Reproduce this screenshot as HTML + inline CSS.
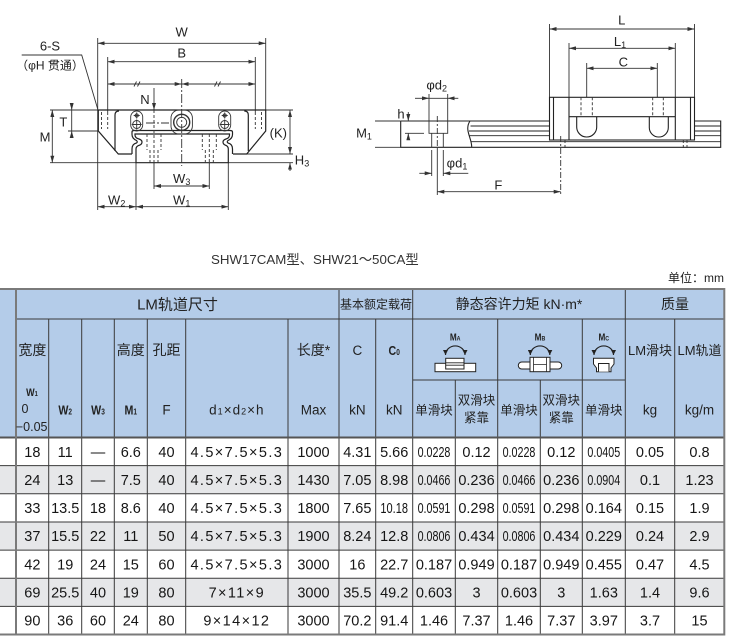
<!DOCTYPE html>
<html><head><meta charset="utf-8">
<style>
html,body{margin:0;padding:0;background:#fff;width:732px;height:641px;overflow:hidden}
svg{display:block}
text{font-family:"Liberation Sans","Noto Sans CJK SC",sans-serif;fill:#222}
.m{text-anchor:middle}
.d text{font-size:14.5px;text-anchor:middle;fill:#151515}
.ls{letter-spacing:1.4px}
.da{marker-start:url(#a);marker-end:url(#a)}
.de{marker-end:url(#a)}
.dt text{font-size:13px;text-anchor:middle}
</style></head><body>
<svg width="732" height="641" viewBox="0 0 732 641" xmlns="http://www.w3.org/2000/svg">
<defs>
<marker id="a" viewBox="0 0 7 4" refX="7" refY="2" markerWidth="7" markerHeight="4" orient="auto-start-reverse" markerUnits="userSpaceOnUse"><path d="M0,0L7,2L0,4z" fill="#333"/></marker>
<marker id="b" viewBox="0 0 5 5" refX="5" refY="2.5" markerWidth="5" markerHeight="5" orient="auto-start-reverse" markerUnits="userSpaceOnUse"><path d="M0,0L5,2.5L0,5z" fill="#222"/></marker>
</defs>

<!-- ============ LEFT DRAWING ============ -->
<g fill="none" stroke="#333" stroke-width="0.9">
  <path d="M97.7,38V210M265.7,38V110M107.7,57V112M255.3,57V112"/>
  <path d="M50,110H97.7M50,162.7H136M68,131H98.3M265.7,110H293M246.7,154H293M228.3,162.7H293"/>
  <path d="M136,162.7V210M228.3,162.7V210M154,163V189M209.3,163V189"/>
  <path d="M71.7,110V131"/>
  <line class="da" x1="97.7" y1="43.3" x2="265.7" y2="43.3"/>
  <line class="da" x1="107.7" y1="61.7" x2="255.3" y2="61.7"/>
  <line class="da" x1="107.7" y1="84" x2="181.7" y2="84"/>
  <line class="da" x1="181.7" y1="84" x2="255.3" y2="84"/>
  <line class="da" x1="52.3" y1="110" x2="52.3" y2="162.7"/>
  <line class="da" x1="290" y1="110" x2="290" y2="154"/>
  <line class="da" x1="154" y1="186" x2="209.3" y2="186"/>
  <line class="da" x1="97.7" y1="206.7" x2="136" y2="206.7"/>
  <line class="da" x1="136" y1="206.7" x2="228.3" y2="206.7"/>
  <line class="de" x1="71.7" y1="103" x2="71.7" y2="110"/>
  <line class="de" x1="71.7" y1="137" x2="71.7" y2="131"/>
  <line class="de" x1="290" y1="171" x2="290" y2="162.7"/>
  <line class="de" x1="154" y1="88" x2="154" y2="110"/>
  <path d="M134,86.5L136.5,81.5M137.5,86.5L140,81.5M214.5,86.5L217,81.5M218,86.5L220.5,81.5"/>
  <polyline points="21.7,55 81.7,55 98.3,111"/>
  <g stroke-width="1.2" stroke="#222">
  <path d="M98.3,110H265.7V131L246.7,154H233M132,154H118.3L98.3,131V110"/>
  <path d="M115,151V115Q115,111 119,111M248.3,151V115Q248.3,111 244.3,111"/>
  <path d="M132,154V149Q132,144 136.5,143Q138,142 136.5,140.5Q132,138.5 132,134.5V132Q132,130.5 134,130.5H230Q232.5,130.5 232.5,132V134.5Q232.5,138.5 228,140.5Q226.5,142 228,143Q232.5,144 232.5,149V154"/>
  <path d="M136,162.7V149Q136,146 140,145Q142,144 142,142Q142,140 139,139Q135,138 135,135V134H229.5V135Q229.5,138 226,139Q223,140 223,142Q223,144 225,145Q228.3,146 228.3,149V162.7Z" fill="#fff"/>
  </g>
  <rect x="130.7" y="111" width="12" height="20" rx="6"/>
  <circle cx="136.7" cy="115.5" r="1.6"/>
  <path d="M133.7,115.5H139.7M136.7,112.5V118.5"/>
  <circle cx="136.7" cy="124.5" r="4"/>
  <path d="M131.7,124.5H141.7M136.7,119.5V129.5"/>
  <rect x="218.7" y="111" width="12" height="20" rx="6"/>
  <circle cx="224.7" cy="115.5" r="1.6"/>
  <path d="M221.7,115.5H227.7M224.7,112.5V118.5"/>
  <circle cx="224.7" cy="124.5" r="4"/>
  <path d="M219.7,124.5H229.7M224.7,119.5V129.5"/>
  <rect x="171" y="110" width="21.4" height="24" rx="8"/>
  <circle cx="181.7" cy="122.3" r="8" stroke-width="1.4"/>
  <circle cx="181.7" cy="122.3" r="5"/>
  <g stroke-dasharray="3,2">
    <path d="M101.5,112V129M107.7,112V129M255.3,112V129M261.5,112V129"/>
    <path d="M147,134V150M161,134V150M150,150V163M158,150V163M202.3,134V150M216.3,134V150M205.3,150V163M213.3,150V163"/>
    <path d="M154,110V163M209.3,134V163"/>
  </g>
  <path d="M181.7,79V166M146,123H169" stroke-dasharray="9,2,2,2"/>
</g>
<g class="dt">
  <text x="181.7" y="36.5">W</text>
  <text x="181.7" y="57.7">B</text>
  <text x="145" y="104">N</text>
  <text x="50" y="50.5">6-S</text>
  <text x="50" y="69.5" style="font-size:12px">（φH 贯通）</text>
  <text x="63.3" y="126.5">T</text>
  <text x="45" y="141.5">M</text>
  <text x="278.3" y="137.5">(K)</text>
  <text x="302" y="164.5">H<tspan style="font-size:9px" dy="2">3</tspan></text>
  <text x="181.7" y="183">W<tspan style="font-size:9px" dy="2">3</tspan></text>
  <text x="116.7" y="204.7">W<tspan style="font-size:9px" dy="2">2</tspan></text>
  <text x="181.7" y="204.7">W<tspan style="font-size:9px" dy="2">1</tspan></text>
</g>

<!-- ============ RIGHT DRAWING ============ -->
<g fill="none" stroke="#333" stroke-width="0.9">
  <path d="M549.5,24V97.3M694.5,24V97.3M569,43V97.3M675.3,43V97.3M586.7,63V97.3M657.3,63V97.3"/>
  <line class="da" x1="549.5" y1="29" x2="694.5" y2="29"/>
  <line class="da" x1="569" y1="48.3" x2="675.3" y2="48.3"/>
  <line class="da" x1="586.7" y1="68.3" x2="657.3" y2="68.3"/>
  <g stroke-width="1.1" stroke="#222">
  <path d="M400.7,121H549.5M694.5,121H720.7V147.3H400.7V121"/>
  <path d="M470,121C464,130 472,138 471.7,147.3" />
  <path d="M470.5,126H549.5M469,131H549.5M469.5,135.7H549.5M471,141.7H720.7M694.5,126H720.7M694.5,131H720.7M694.5,135.7H720.7" stroke-width="0.9"/>
  <rect x="549.5" y="97.3" width="145" height="42.7" fill="#fff"/>
  <path d="M553.5,97.3V140M690.5,97.3V140M569,97.3V140M675.3,97.3V140M569,116.7H675.3"/>
  <path d="M576.7,116.7V127A10,10 0 0 0 596.7,127V116.7M649.3,116.7V127.5A9.5,9.5 0 0 0 668.3,127.5V116.7"/>
  </g>
  <g stroke-dasharray="3,2">
    <path d="M581,97.3V116.7M592.3,97.3V116.7M652.7,97.3V116.7M663.3,97.3V116.7"/>
    <path d="M565,140V150M683.3,140V150M687,140V150"/>
  </g>
  <path d="M560.7,136V195M437.3,116V150" stroke-dasharray="6,2,2,2"/>
  <path d="M429,94V133.3H447.7V94M431.7,133.3V147.3M443.3,133.3V147.3"/>
  <path d="M431.7,150V176M443.3,150V176M437.3,150V195"/>
  <path d="M405,133.3H424M375,121H400.7M375,147.3H400.7"/>
  <line class="de" x1="408.3" y1="112" x2="408.3" y2="121"/>
  <line class="de" x1="408.3" y1="140" x2="408.3" y2="133.3"/>
  <path d="M429,98.3H447.7"/>
  <line class="de" x1="415" y1="98.3" x2="429" y2="98.3"/>
  <line class="de" x1="458.3" y1="98.3" x2="447.7" y2="98.3"/>
  <line class="de" x1="419.3" y1="173.3" x2="431.7" y2="173.3"/>
  <line class="de" x1="468.3" y1="173.3" x2="443.3" y2="173.3"/>
  <line class="da" x1="437.3" y1="191.7" x2="560.7" y2="191.7"/>
</g>
<g class="dt">
  <text x="621.7" y="24.5">L</text>
  <text x="620" y="46">L<tspan style="font-size:9px" dy="2">1</tspan></text>
  <text x="623.3" y="66.3">C</text>
  <text x="436.7" y="89.5">φd<tspan style="font-size:9px" dy="2">2</tspan></text>
  <text x="401" y="118.5">h</text>
  <text x="364" y="137.5">M<tspan style="font-size:9px" dy="2">1</tspan></text>
  <text x="457" y="167.5">φd<tspan style="font-size:9px" dy="2">1</tspan></text>
  <text x="498.3" y="189.5">F</text>
</g>

<!-- ============ CAPTION ============ -->
<text x="211" y="264" style="font-size:13.3px;fill:#333">SHW17CAM型、SHW21〜50CA型</text>
<text x="724" y="282" style="font-size:12px;text-anchor:end;fill:#222">单位：mm</text>

<!-- ============ TABLE ============ -->
<rect x="0" y="289" width="724.3" height="148.5" fill="#b4cce9"/>
<rect x="0" y="465.65" width="724.3" height="28.15" fill="#e6e7e9"/>
<rect x="0" y="521.95" width="724.3" height="28.15" fill="#e6e7e9"/>
<rect x="0" y="578.25" width="724.3" height="28.15" fill="#e6e7e9"/>
<g stroke="#3a3a3a" stroke-width="1" fill="none">
<path d="M16,319H724.3M412.7,380H625.3M0,465.65H724.3M0,493.8H724.3M0,521.95H724.3M0,550.1H724.3M0,578.25H724.3M0,606.4H724.3"/>
<path d="M339,289V634.5M412.7,289V634.5M625.3,289V634.5M48.7,319V634.5M81.7,319V634.5M114.3,319V634.5M147.3,319V634.5M185.7,319V634.5M288,319V634.5M375.7,319V634.5M497.7,319V634.5M582.3,319V634.5M674.7,319V634.5M455.3,380V634.5M540.3,380V634.5"/>
</g>
<path d="M0,437.5H724.3" stroke="#555" stroke-width="2"/>
<g stroke="#7a7a7a" stroke-width="2" fill="none">
<path d="M0,289H725.3M724.3,289V635.5M0,634.5H725.3M16,289V635"/>
</g>

<text class="m" x="177.5" y="309.5" style="font-size:15px">LM轨道尺寸</text>
<text class="m" x="376" y="308.5" style="font-size:12px">基本额定载荷</text>
<text class="m" x="519" y="309" style="font-size:14px">静态容许力矩 kN·m*</text>
<text class="m" x="675" y="309" style="font-size:14px">质量</text>

<g style="font-size:14px">
<text class="m" x="32.35" y="355">宽度</text>
<text class="m" x="130.8" y="355">高度</text>
<text class="m" x="166.5" y="355">孔距</text>
<text class="m" x="313.5" y="355">长度*</text>
</g>
<text class="m" transform="translate(32,396) scale(.82,1)" style="font-size:11px;font-weight:bold">W<tspan style="font-size:7px">1</tspan></text>
<text class="m" x="25" y="413" style="font-size:12.5px">0</text>
<text class="m" x="31.7" y="431" style="font-size:12.5px">−0.05</text>
<g style="font-size:13px;font-weight:bold">
<text class="m" transform="translate(65.2,414.5) scale(.82,1)">W<tspan style="font-size:8px">2</tspan></text>
<text class="m" transform="translate(98,414.5) scale(.82,1)">W<tspan style="font-size:8px">3</tspan></text>
<text class="m" transform="translate(130.8,414.5) scale(.82,1)">M<tspan style="font-size:8px">1</tspan></text>
<text class="m" transform="translate(394.2,355) scale(.82,1)">C<tspan style="font-size:8px">0</tspan></text>
</g>
<g style="font-size:13.5px">
<text class="m" x="166.5" y="414.5">F</text>
<text class="m" x="236.85" y="414.5" style="letter-spacing:1px">d<tspan style="font-size:9px">1</tspan>×d<tspan style="font-size:9px">2</tspan>×h</text>
<text class="m" x="313.5" y="414.5">Max</text>
<text class="m" x="357.35" y="355">C</text>
<text class="m" x="357.35" y="414.5">kN</text>
<text class="m" x="394.2" y="414.5">kN</text>
<text class="m" x="650" y="414.5">kg</text>
<text class="m" x="699.5" y="414.5">kg/m</text>
</g>
<g style="font-size:13px">
<text class="m" x="650" y="355">LM滑块</text>
<text class="m" x="699.5" y="355">LM轨道</text>
</g>
<g style="font-size:12.5px">
<text class="m" x="434" y="414.5">单滑块</text>
<text class="m" x="476.5" y="404.5">双滑块</text>
<text class="m" x="476.5" y="422">紧靠</text>
<text class="m" x="519" y="414.5">单滑块</text>
<text class="m" x="561.3" y="404.5">双滑块</text>
<text class="m" x="561.3" y="422">紧靠</text>
<text class="m" x="603.8" y="414.5">单滑块</text>
</g>

<g style="font-size:10px;font-weight:bold">
<text class="m" transform="translate(455.2,340.5) scale(.82,1)">M<tspan style="font-size:6.5px">A</tspan></text>
<text class="m" transform="translate(540,340.5) scale(.82,1)">M<tspan style="font-size:6.5px">B</tspan></text>
<text class="m" transform="translate(603.8,340.5) scale(.82,1)">M<tspan style="font-size:6.5px">C</tspan></text>
</g>
<g fill="none" stroke="#222" stroke-width="1.2">
<path d="M445.5,355A9.7,9 0 0 1 465,355" marker-start="url(#b)" marker-end="url(#b)"/>
<path d="M530.3,355A9.7,9 0 0 1 549.8,355" marker-start="url(#b)" marker-end="url(#b)"/>
<path d="M594,355A9.7,9 0 0 1 613.5,355" marker-start="url(#b)" marker-end="url(#b)"/>
</g>
<g stroke="#222" stroke-width="1" fill="#fff">
<rect x="435" y="363.3" width="40.7" height="8.4"/>
<rect x="445.7" y="358.3" width="18.3" height="10.7"/>
<path d="M445.7,362.8H464M445.7,365.2H464" fill="none" stroke-width=".8"/>
<rect x="518.3" y="362" width="43.4" height="7" rx="3.5"/>
<rect x="530" y="357.3" width="20" height="14.4"/>
<path d="M533.5,357.3V371.7M546.5,357.3V371.7M533.5,364.5H546.5" fill="none" stroke-width=".8"/>
<path d="M593.5,358.3H614V364L611,368V371.7H596.5V368L593.5,364Z"/>
<path d="M598.5,371.7V363.5H609V371.7"/>
</g>

<g class="d">
<g transform="translate(0,456.8)">
<text x="32.35">18</text><text x="65.2">11</text><text x="98">—</text><text x="130.8">6.6</text><text x="166.5">40</text><text x="236.85" class="ls">4.5×7.5×5.3</text><text x="313.5">1000</text><text x="357.35">4.31</text><text x="394.2">5.66</text><text transform="translate(434) scale(.74,1)">0.0228</text><text x="476.5">0.12</text><text transform="translate(519) scale(.74,1)">0.0228</text><text x="561.3">0.12</text><text transform="translate(603.8) scale(.74,1)">0.0405</text><text x="650">0.05</text><text x="699.5">0.8</text>
</g>
<g transform="translate(0,484.9)">
<text x="32.35">24</text><text x="65.2">13</text><text x="98">—</text><text x="130.8">7.5</text><text x="166.5">40</text><text x="236.85" class="ls">4.5×7.5×5.3</text><text x="313.5">1430</text><text x="357.35">7.05</text><text x="394.2">8.98</text><text transform="translate(434) scale(.74,1)">0.0466</text><text x="476.5">0.236</text><text transform="translate(519) scale(.74,1)">0.0466</text><text x="561.3">0.236</text><text transform="translate(603.8) scale(.74,1)">0.0904</text><text x="650">0.1</text><text x="699.5">1.23</text>
</g>
<g transform="translate(0,513.1)">
<text x="32.35">33</text><text x="65.2">13.5</text><text x="98">18</text><text x="130.8">8.6</text><text x="166.5">40</text><text x="236.85" class="ls">4.5×7.5×5.3</text><text x="313.5">1800</text><text x="357.35">7.65</text><text transform="translate(394.2) scale(.76,1)">10.18</text><text transform="translate(434) scale(.74,1)">0.0591</text><text x="476.5">0.298</text><text transform="translate(519) scale(.74,1)">0.0591</text><text x="561.3">0.298</text><text x="603.8">0.164</text><text x="650">0.15</text><text x="699.5">1.9</text>
</g>
<g transform="translate(0,541.2)">
<text x="32.35">37</text><text x="65.2">15.5</text><text x="98">22</text><text x="130.8">11</text><text x="166.5">50</text><text x="236.85" class="ls">4.5×7.5×5.3</text><text x="313.5">1900</text><text x="357.35">8.24</text><text x="394.2">12.8</text><text transform="translate(434) scale(.74,1)">0.0806</text><text x="476.5">0.434</text><text transform="translate(519) scale(.74,1)">0.0806</text><text x="561.3">0.434</text><text x="603.8">0.229</text><text x="650">0.24</text><text x="699.5">2.9</text>
</g>
<g transform="translate(0,569.4)">
<text x="32.35">42</text><text x="65.2">19</text><text x="98">24</text><text x="130.8">15</text><text x="166.5">60</text><text x="236.85" class="ls">4.5×7.5×5.3</text><text x="313.5">3000</text><text x="357.35">16</text><text x="394.2">22.7</text><text x="434">0.187</text><text x="476.5">0.949</text><text x="519">0.187</text><text x="561.3">0.949</text><text x="603.8">0.455</text><text x="650">0.47</text><text x="699.5">4.5</text>
</g>
<g transform="translate(0,597.5)">
<text x="32.35">69</text><text x="65.2">25.5</text><text x="98">40</text><text x="130.8">19</text><text x="166.5">80</text><text x="236.85" class="ls">7×11×9</text><text x="313.5">3000</text><text x="357.35">35.5</text><text x="394.2">49.2</text><text x="434">0.603</text><text x="476.5">3</text><text x="519">0.603</text><text x="561.3">3</text><text x="603.8">1.63</text><text x="650">1.4</text><text x="699.5">9.6</text>
</g>
<g transform="translate(0,625.7)">
<text x="32.35">90</text><text x="65.2">36</text><text x="98">60</text><text x="130.8">24</text><text x="166.5">80</text><text x="236.85" class="ls">9×14×12</text><text x="313.5">3000</text><text x="357.35">70.2</text><text x="394.2">91.4</text><text x="434">1.46</text><text x="476.5">7.37</text><text x="519">1.46</text><text x="561.3">7.37</text><text x="603.8">3.97</text><text x="650">3.7</text><text x="699.5">15</text>
</g>
</g>
</svg>
</body></html>
